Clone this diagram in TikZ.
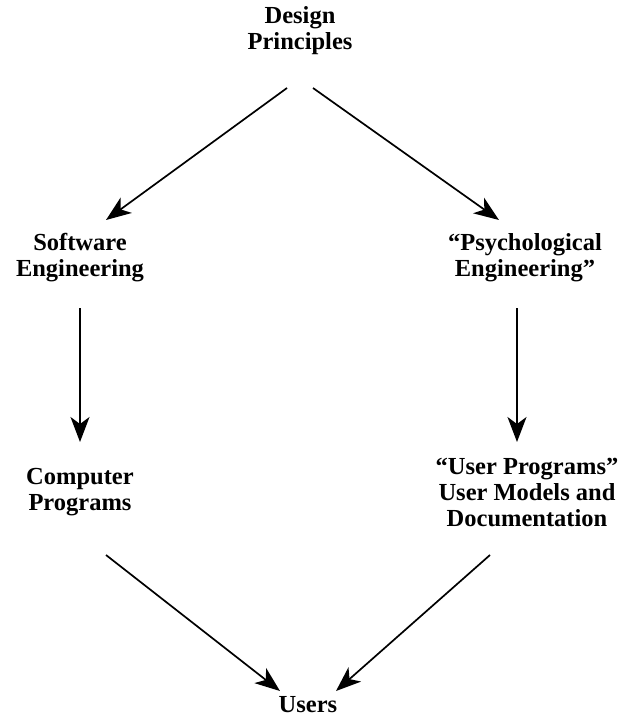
\documentclass[tikz,border=0pt]{standalone}
\usepackage{fontspec}
\setmainfont{Liberation Serif}
\usetikzlibrary{arrows.meta, positioning}

\begin{document}
\begin{tikzpicture}[x=1pt,y=-1pt,
  label/.style={font=\fontsize{24.5}{26}\selectfont\bfseries, align=center, inner sep=0pt},
  flow/.style={line width=1.7pt, -{Stealth[length=25pt, width=19pt, inset=7pt]}}]
\useasboundingbox (0,0) rectangle (626,720);

% Text Nodes
\node [label] (design) at (300,31) {Design\\Principles};
\node [label] (softeng) at (80,258) {Software\\Engineering};
\node [label] (psyeng) at (525,258) {``Psychological\\Engineering''};
\node [label] (comprog) at (80,492) {Computer\\Programs};
\node [label] (userprog) at (527,492) {``User Programs''\\User Models and\\Documentation};
\node [label] (users) at (308,705) {Users};

% Arrow ends
\coordinate (designL) at (287,88);
\coordinate (designR) at (313,88);
\coordinate (softengT) at (106,220);
\coordinate (psyengT) at (499,220);
\coordinate (softengB) at (80,308);
\coordinate (psyengB) at (517,308);
\coordinate (comprogT) at (80,442);
\coordinate (userprogT) at (517,442);
\coordinate (comprogB) at (106,555);
\coordinate (userprogB) at (490,555);
\coordinate (usersL) at (280,691);
\coordinate (usersR) at (336,691);

% Straight Lines
\draw [flow] (designL) -- (softengT);
\draw [flow] (designR) -- (psyengT);
\draw [flow] (softengB) -- (comprogT);
\draw [flow] (psyengB) -- (userprogT);
\draw [flow] (comprogB) -- (usersL);
\draw [flow] (userprogB) -- (usersR);

\end{tikzpicture}
\end{document}
